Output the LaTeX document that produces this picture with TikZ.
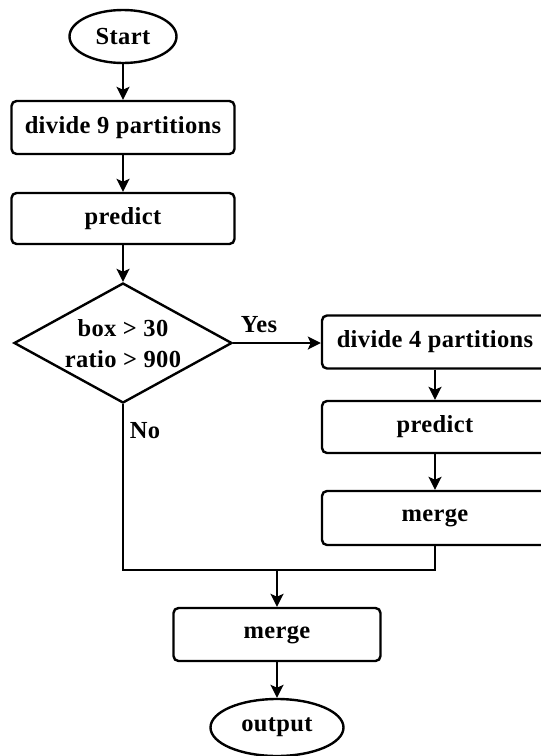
\documentclass[tikz,border=0pt]{standalone}
\usepackage{fontspec}
\setmainfont{Liberation Serif}[LetterSpace=1.5]
\usetikzlibrary{shapes.geometric,arrows.meta}
\begin{document}
\begin{tikzpicture}[x=1pt,y=-1pt,
  every node/.style={font=\fontsize{24.5}{29}\selectfont\bfseries, text=black},
  proc/.style={draw, line width=2.4pt, rounded corners=5pt, minimum width=223pt, minimum height=53pt, inner sep=0pt},
  procr/.style={proc, minimum width=226pt},
  term/.style={draw, ellipse, line width=2.4pt, inner sep=0pt},
  dec/.style={draw, diamond, line width=2.4pt, minimum width=218pt, minimum height=120pt, inner sep=0pt},
  conn/.style={line width=2.4pt},
  arr/.style={conn, -{Stealth[length=13pt,width=13pt,inset=3pt]}},
  lbl/.style={inner sep=0pt}
]
\useasboundingbox (0,0) rectangle (541,756);
\begin{scope}
\clip (0,0) rectangle (541,756);
% left column
\node[term, minimum width=107pt, minimum height=53pt] (start) at (123,36.5) {Start};
\node[proc] (div9) at (123,127.5) {divide 9 partitions};
\node[proc, minimum height=51pt] (pred1) at (123,218.5) {predict};
\node[dec] (dec) at (123,343) {};
\node[lbl, align=center, font=\fontsize{24.5}{31}\selectfont\bfseries] (dectext) at (123,344) {box > 30\\ratio > 900};
% right column
\node[procr] (div4) at (435,342) {divide 4 partitions};
\node[procr, minimum height=52pt] (pred2) at (435,427) {predict};
\node[procr, minimum height=54pt] (merge1) at (435,518) {merge};
% bottom
\node[proc, minimum width=207pt] (merge2) at (277,634.5) {merge};
\node[term, minimum width=133pt, minimum height=57pt] (out) at (277,727.5) {output};
% labels
\node[lbl] (yes) at (259,325) {Yes};
\node[lbl] (no) at (145,431) {No};
% junction coordinates
\coordinate (jl) at (123,570);
\coordinate (jr) at (435,570);
\coordinate (jm) at (277,570);
% connectors
\draw[arr] (start) -- (div9);
\draw[arr] (div9) -- (pred1);
\draw[arr] (pred1.south) -- (dec.north);
\draw[arr] (dec.east) -- (div4.west |- dec.east);
\draw[arr] (div4) -- (pred2);
\draw[arr] (pred2) -- (merge1);
\draw[conn] (dec.south) -- (jl) -- (jr) -- (merge1.south);
\draw[arr] (jm) -- (merge2.north);
\draw[arr] (merge2) -- (out);
\end{scope}
\end{tikzpicture}
\end{document}
